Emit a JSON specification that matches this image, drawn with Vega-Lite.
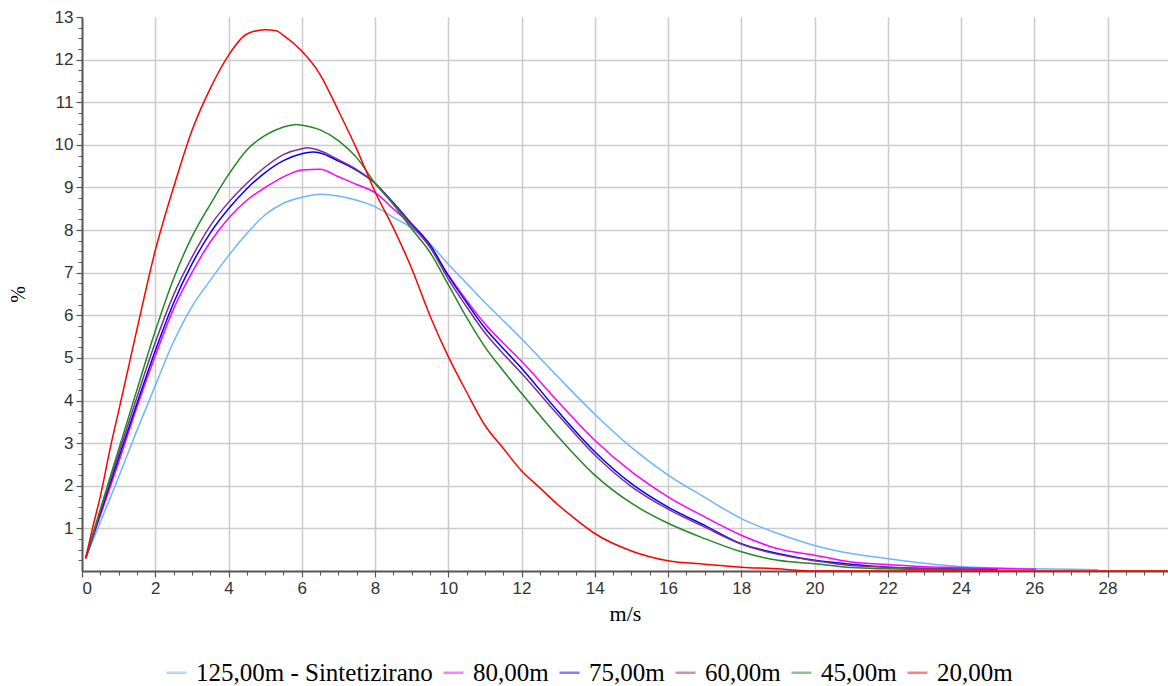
{
  "$schema": "https://vega.github.io/schema/vega-lite/v6.json",
  "width": 1086,
  "height": 554,
  "autosize": {"type": "none"},
  "padding": {"left": 82, "top": 17, "right": 0, "bottom": 115},
  "background": "white",
  "config": {"view": {"stroke": null}},
  "datasets": {
    "curves": [
      {"s":"125,00m - Sintetizirano","v":0.1,"p":0.3},{"s":"125,00m - Sintetizirano","v":0.5,"p":1.15},{"s":"125,00m - Sintetizirano","v":1,"p":2.2},{"s":"125,00m - Sintetizirano","v":1.5,"p":3.3},{"s":"125,00m - Sintetizirano","v":2,"p":4.35},{"s":"125,00m - Sintetizirano","v":2.5,"p":5.38},{"s":"125,00m - Sintetizirano","v":3,"p":6.2},{"s":"125,00m - Sintetizirano","v":3.5,"p":6.82},{"s":"125,00m - Sintetizirano","v":4,"p":7.4},{"s":"125,00m - Sintetizirano","v":4.5,"p":7.92},{"s":"125,00m - Sintetizirano","v":5,"p":8.36},{"s":"125,00m - Sintetizirano","v":5.5,"p":8.63},{"s":"125,00m - Sintetizirano","v":6,"p":8.77},{"s":"125,00m - Sintetizirano","v":6.5,"p":8.84},{"s":"125,00m - Sintetizirano","v":7,"p":8.8},{"s":"125,00m - Sintetizirano","v":7.5,"p":8.7},{"s":"125,00m - Sintetizirano","v":8,"p":8.55},{"s":"125,00m - Sintetizirano","v":8.5,"p":8.3},{"s":"125,00m - Sintetizirano","v":9,"p":8.05},{"s":"125,00m - Sintetizirano","v":9.5,"p":7.68},{"s":"125,00m - Sintetizirano","v":10,"p":7.2},{"s":"125,00m - Sintetizirano","v":10.5,"p":6.75},{"s":"125,00m - Sintetizirano","v":11,"p":6.3},{"s":"125,00m - Sintetizirano","v":11.5,"p":5.88},{"s":"125,00m - Sintetizirano","v":12,"p":5.45},{"s":"125,00m - Sintetizirano","v":13,"p":4.55},{"s":"125,00m - Sintetizirano","v":14,"p":3.68},{"s":"125,00m - Sintetizirano","v":15,"p":2.9},{"s":"125,00m - Sintetizirano","v":16,"p":2.25},{"s":"125,00m - Sintetizirano","v":17,"p":1.73},{"s":"125,00m - Sintetizirano","v":18,"p":1.23},{"s":"125,00m - Sintetizirano","v":19,"p":0.88},{"s":"125,00m - Sintetizirano","v":20,"p":0.6},{"s":"125,00m - Sintetizirano","v":21,"p":0.41},{"s":"125,00m - Sintetizirano","v":22,"p":0.29},{"s":"125,00m - Sintetizirano","v":23,"p":0.18},{"s":"125,00m - Sintetizirano","v":24,"p":0.1},{"s":"125,00m - Sintetizirano","v":25,"p":0.07},{"s":"125,00m - Sintetizirano","v":26,"p":0.05},{"s":"125,00m - Sintetizirano","v":27,"p":0.04},{"s":"125,00m - Sintetizirano","v":27.75,"p":0.03},
      {"s":"80,00m","v":0.1,"p":0.3},{"s":"80,00m","v":0.5,"p":1.3},{"s":"80,00m","v":1,"p":2.55},{"s":"80,00m","v":1.5,"p":3.85},{"s":"80,00m","v":2,"p":5.05},{"s":"80,00m","v":2.5,"p":6.15},{"s":"80,00m","v":3,"p":7.0},{"s":"80,00m","v":3.5,"p":7.72},{"s":"80,00m","v":4,"p":8.28},{"s":"80,00m","v":4.5,"p":8.7},{"s":"80,00m","v":5,"p":9.0},{"s":"80,00m","v":5.5,"p":9.25},{"s":"80,00m","v":6,"p":9.41},{"s":"80,00m","v":6.5,"p":9.43},{"s":"80,00m","v":7,"p":9.25},{"s":"80,00m","v":7.5,"p":9.07},{"s":"80,00m","v":8,"p":8.88},{"s":"80,00m","v":8.5,"p":8.5},{"s":"80,00m","v":9,"p":8.1},{"s":"80,00m","v":9.5,"p":7.6},{"s":"80,00m","v":10,"p":6.95},{"s":"80,00m","v":10.5,"p":6.35},{"s":"80,00m","v":11,"p":5.8},{"s":"80,00m","v":11.5,"p":5.35},{"s":"80,00m","v":12,"p":4.92},{"s":"80,00m","v":13,"p":3.97},{"s":"80,00m","v":14,"p":3.07},{"s":"80,00m","v":15,"p":2.33},{"s":"80,00m","v":16,"p":1.74},{"s":"80,00m","v":17,"p":1.27},{"s":"80,00m","v":18,"p":0.84},{"s":"80,00m","v":19,"p":0.52},{"s":"80,00m","v":20,"p":0.37},{"s":"80,00m","v":21,"p":0.21},{"s":"80,00m","v":22,"p":0.15},{"s":"80,00m","v":23,"p":0.1},{"s":"80,00m","v":24,"p":0.08},{"s":"80,00m","v":25,"p":0.06},{"s":"80,00m","v":26.05,"p":0.04},
      {"s":"75,00m","v":0.1,"p":0.3},{"s":"75,00m","v":0.5,"p":1.35},{"s":"75,00m","v":1,"p":2.65},{"s":"75,00m","v":1.5,"p":3.93},{"s":"75,00m","v":2,"p":5.17},{"s":"75,00m","v":2.5,"p":6.29},{"s":"75,00m","v":3,"p":7.2},{"s":"75,00m","v":3.5,"p":7.93},{"s":"75,00m","v":4,"p":8.5},{"s":"75,00m","v":4.5,"p":8.97},{"s":"75,00m","v":5,"p":9.35},{"s":"75,00m","v":5.5,"p":9.63},{"s":"75,00m","v":6,"p":9.79},{"s":"75,00m","v":6.3,"p":9.83},{"s":"75,00m","v":6.5,"p":9.81},{"s":"75,00m","v":7,"p":9.62},{"s":"75,00m","v":7.5,"p":9.4},{"s":"75,00m","v":8,"p":9.1},{"s":"75,00m","v":8.5,"p":8.64},{"s":"75,00m","v":9,"p":8.15},{"s":"75,00m","v":9.5,"p":7.66},{"s":"75,00m","v":10,"p":6.93},{"s":"75,00m","v":10.5,"p":6.3},{"s":"75,00m","v":11,"p":5.7},{"s":"75,00m","v":11.5,"p":5.22},{"s":"75,00m","v":12,"p":4.76},{"s":"75,00m","v":13,"p":3.74},{"s":"75,00m","v":14,"p":2.8},{"s":"75,00m","v":15,"p":2.05},{"s":"75,00m","v":16,"p":1.5},{"s":"75,00m","v":17,"p":1.07},{"s":"75,00m","v":18,"p":0.64},{"s":"75,00m","v":19,"p":0.41},{"s":"75,00m","v":20,"p":0.25},{"s":"75,00m","v":21,"p":0.16},{"s":"75,00m","v":22,"p":0.09},{"s":"75,00m","v":23,"p":0.06},{"s":"75,00m","v":24,"p":0.04},{"s":"75,00m","v":25,"p":0.03},
      {"s":"60,00m","v":0.1,"p":0.3},{"s":"60,00m","v":0.5,"p":1.4},{"s":"60,00m","v":1,"p":2.75},{"s":"60,00m","v":1.5,"p":4.08},{"s":"60,00m","v":2,"p":5.36},{"s":"60,00m","v":2.5,"p":6.48},{"s":"60,00m","v":3,"p":7.36},{"s":"60,00m","v":3.5,"p":8.1},{"s":"60,00m","v":4,"p":8.65},{"s":"60,00m","v":4.5,"p":9.1},{"s":"60,00m","v":5,"p":9.48},{"s":"60,00m","v":5.5,"p":9.77},{"s":"60,00m","v":6,"p":9.91},{"s":"60,00m","v":6.15,"p":9.93},{"s":"60,00m","v":6.5,"p":9.86},{"s":"60,00m","v":7,"p":9.65},{"s":"60,00m","v":7.5,"p":9.42},{"s":"60,00m","v":8,"p":9.1},{"s":"60,00m","v":8.5,"p":8.62},{"s":"60,00m","v":9,"p":8.12},{"s":"60,00m","v":9.5,"p":7.6},{"s":"60,00m","v":10,"p":6.85},{"s":"60,00m","v":10.5,"p":6.2},{"s":"60,00m","v":11,"p":5.59},{"s":"60,00m","v":11.5,"p":5.1},{"s":"60,00m","v":12,"p":4.64},{"s":"60,00m","v":13,"p":3.66},{"s":"60,00m","v":14,"p":2.72},{"s":"60,00m","v":15,"p":1.98},{"s":"60,00m","v":16,"p":1.45},{"s":"60,00m","v":17,"p":1.03},{"s":"60,00m","v":18,"p":0.63},{"s":"60,00m","v":19,"p":0.39},{"s":"60,00m","v":20,"p":0.24},{"s":"60,00m","v":21,"p":0.13},{"s":"60,00m","v":22,"p":0.09},{"s":"60,00m","v":23,"p":0.06},{"s":"60,00m","v":24,"p":0.04},{"s":"60,00m","v":24.8,"p":0.03},
      {"s":"45,00m","v":0.1,"p":0.3},{"s":"45,00m","v":0.5,"p":1.45},{"s":"45,00m","v":1,"p":2.85},{"s":"45,00m","v":1.5,"p":4.25},{"s":"45,00m","v":2,"p":5.63},{"s":"45,00m","v":2.5,"p":6.86},{"s":"45,00m","v":3,"p":7.84},{"s":"45,00m","v":3.5,"p":8.6},{"s":"45,00m","v":4,"p":9.3},{"s":"45,00m","v":4.5,"p":9.88},{"s":"45,00m","v":5,"p":10.22},{"s":"45,00m","v":5.5,"p":10.42},{"s":"45,00m","v":5.85,"p":10.48},{"s":"45,00m","v":6,"p":10.46},{"s":"45,00m","v":6.5,"p":10.35},{"s":"45,00m","v":7,"p":10.1},{"s":"45,00m","v":7.5,"p":9.7},{"s":"45,00m","v":8,"p":9.1},{"s":"45,00m","v":8.5,"p":8.6},{"s":"45,00m","v":9,"p":8.03},{"s":"45,00m","v":9.5,"p":7.48},{"s":"45,00m","v":10,"p":6.72},{"s":"45,00m","v":10.5,"p":5.95},{"s":"45,00m","v":11,"p":5.26},{"s":"45,00m","v":11.5,"p":4.7},{"s":"45,00m","v":12,"p":4.17},{"s":"45,00m","v":13,"p":3.15},{"s":"45,00m","v":14,"p":2.25},{"s":"45,00m","v":15,"p":1.59},{"s":"45,00m","v":16,"p":1.12},{"s":"45,00m","v":17,"p":0.76},{"s":"45,00m","v":18,"p":0.45},{"s":"45,00m","v":19,"p":0.25},{"s":"45,00m","v":20,"p":0.17},{"s":"45,00m","v":21,"p":0.08},{"s":"45,00m","v":22,"p":0.05},{"s":"45,00m","v":23,"p":0.03},{"s":"45,00m","v":24,"p":0.02},
      {"s":"20,00m","v":0.1,"p":0.3},{"s":"20,00m","v":0.3,"p":1.05},{"s":"20,00m","v":0.5,"p":1.75},{"s":"20,00m","v":0.8,"p":3.0},{"s":"20,00m","v":1,"p":3.75},{"s":"20,00m","v":1.5,"p":5.67},{"s":"20,00m","v":2,"p":7.52},{"s":"20,00m","v":2.5,"p":9.0},{"s":"20,00m","v":3,"p":10.33},{"s":"20,00m","v":3.5,"p":11.32},{"s":"20,00m","v":4,"p":12.1},{"s":"20,00m","v":4.5,"p":12.6},{"s":"20,00m","v":5,"p":12.7},{"s":"20,00m","v":5.3,"p":12.68},{"s":"20,00m","v":5.5,"p":12.57},{"s":"20,00m","v":6,"p":12.2},{"s":"20,00m","v":6.5,"p":11.65},{"s":"20,00m","v":7,"p":10.8},{"s":"20,00m","v":7.5,"p":9.9},{"s":"20,00m","v":8,"p":8.9},{"s":"20,00m","v":8.5,"p":8.05},{"s":"20,00m","v":9,"p":7.1},{"s":"20,00m","v":9.5,"p":5.99},{"s":"20,00m","v":10,"p":5.03},{"s":"20,00m","v":10.5,"p":4.2},{"s":"20,00m","v":11,"p":3.42},{"s":"20,00m","v":11.5,"p":2.88},{"s":"20,00m","v":12,"p":2.35},{"s":"20,00m","v":12.5,"p":1.95},{"s":"20,00m","v":13,"p":1.55},{"s":"20,00m","v":13.5,"p":1.2},{"s":"20,00m","v":14,"p":0.88},{"s":"20,00m","v":15,"p":0.47},{"s":"20,00m","v":16,"p":0.24},{"s":"20,00m","v":17,"p":0.16},{"s":"20,00m","v":18,"p":0.09},{"s":"20,00m","v":19,"p":0.05},{"s":"20,00m","v":19.5,"p":0.02},{"s":"20,00m","v":20,"p":0},{"s":"20,00m","v":29.65,"p":0}
    ]
  },
  "data": {"name": "curves"},
  "resolve": {"axis": {"x": "independent", "y": "independent"}},
  "layer": [
    {
      "mark": {"type": "point", "opacity": 0},
      "encoding": {
        "x": {"field": "v", "type": "quantitative", "scale": {"domain": [0, 29.65], "nice": false, "zero": false},
          "axis": {"orient": "bottom", "values": [2,4,6,8,10,12,14,16,18,20,22,24,26,28], "grid": true, "gridColor": "#cccccc", "gridWidth": 1.5, "labels": false, "ticks": false, "domain": false, "title": null, "zindex": 0}},
        "y": {"field": "p", "type": "quantitative", "scale": {"domain": [0, 13], "nice": false},
          "axis": {"orient": "left", "values": [1,2,3,4,5,6,7,8,9,10,11,12], "grid": true, "gridColor": "#cccccc", "gridWidth": 1.5, "labels": false, "ticks": false, "domain": false, "title": null, "zindex": 0}}
      }
    },
    {
      "mark": {"type": "point", "opacity": 0},
      "encoding": {
        "x": {"field": "v", "type": "quantitative",
          "axis": {"orient": "bottom", "values": [0,0.5,1,1.5,2,2.5,3,3.5,4,4.5,5,5.5,6,6.5,7,7.5,8,8.5,9,9.5,10,10.5,11,11.5,12,12.5,13,13.5,14,14.5,15,15.5,16,16.5,17,17.5,18,18.5,19,19.5,20,20.5,21,21.5,22,22.5,23,23.5,24,24.5,25,25.5,26,26.5,27,27.5,28,28.5,29,29.5], "grid": false, "labels": false, "ticks": true, "tickSize": 4, "tickColor": "#555555", "tickWidth": 1, "domain": false, "title": null, "zindex": 0}},
        "y": {"field": "p", "type": "quantitative",
          "axis": {"orient": "left", "values": [0.25,0.5,0.75,1,1.25,1.5,1.75,2,2.25,2.5,2.75,3,3.25,3.5,3.75,4,4.25,4.5,4.75,5,5.25,5.5,5.75,6,6.25,6.5,6.75,7,7.25,7.5,7.75,8,8.25,8.5,8.75,9,9.25,9.5,9.75,10,10.25,10.5,10.75,11,11.25,11.5,11.75,12,12.25,12.5,12.75,13], "grid": false, "labels": false, "ticks": true, "tickSize": 4, "tickColor": "#555555", "tickWidth": 1, "domain": false, "title": null, "zindex": 0}}
      }
    },
    {
      "mark": {"type": "line", "strokeWidth": 1.5, "interpolate": "monotone"},
      "encoding": {
        "x": {"field": "v", "type": "quantitative",
          "axis": {"orient": "bottom", "values": [0,2,4,6,8,10,12,14,16,18,20,22,24,26,28], "grid": false, "tickSize": 6, "tickColor": "#555555", "tickWidth": 1.2, "domainColor": "#555555", "domainWidth": 2, "labelFont": "Liberation Sans", "labelFontSize": 17, "labelColor": "#333333", "labelPadding": 3, "title": "m/s", "titleFont": "Liberation Serif", "titleFontSize": 22, "titleFontWeight": "normal", "titleColor": "#000000", "titlePadding": 7, "zindex": 0}},
        "y": {"field": "p", "type": "quantitative",
          "axis": {"orient": "left", "values": [1,2,3,4,5,6,7,8,9,10,11,12,13], "grid": false, "tickSize": 6, "tickColor": "#555555", "tickWidth": 1.2, "domainColor": "#555555", "domainWidth": 2, "labelFont": "Liberation Sans", "labelFontSize": 17, "labelColor": "#333333", "labelPadding": 3, "title": "%", "titleFont": "Liberation Serif", "titleFontSize": 20, "titleFontWeight": "normal", "titleColor": "#000000", "titlePadding": 26, "zindex": 0}},
        "color": {"field": "s", "type": "nominal",
          "scale": {"domain": ["125,00m - Sintetizirano", "80,00m", "75,00m", "60,00m", "45,00m", "20,00m"], "range": ["#6cb6ff", "#ff00ff", "#0000ff", "#7f2f8f", "#228822", "#ff0000"]},
          "legend": {"orient": "none", "legendX": 82, "legendY": 643, "direction": "horizontal", "title": null, "symbolType": "stroke", "symbolSize": 400, "symbolStrokeWidth": 2.5, "symbolOpacity": 0.5, "labelFont": "Liberation Serif", "labelFontSize": 25, "labelColor": "#000000", "labelOffset": 7, "columnPadding": 5, "padding": 0, "labelLimit": 400}}
      }
    }
  ]
}
